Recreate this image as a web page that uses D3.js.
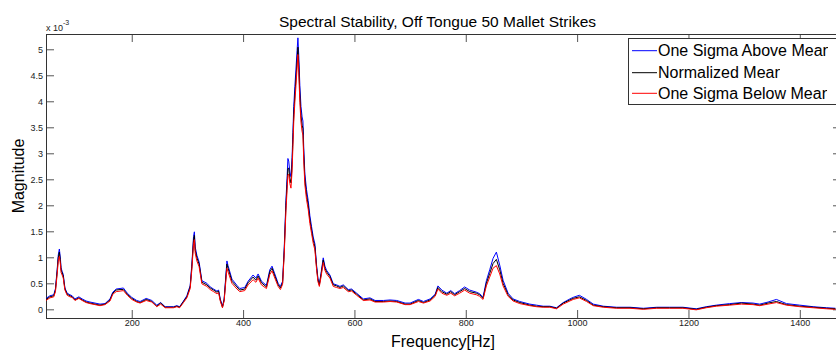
<!DOCTYPE html>
<html>
<head>
<meta charset="utf-8">
<script src="https://cdn.jsdelivr.net/npm/d3@7"></script>
<style>
  body { margin: 0; background: #fff; }
  svg { display: block; font-family: "Liberation Sans", Arial, Helvetica, sans-serif; }
</style>
</head>
<body>
<div id="chart"></div>
<script>
// frequency in Hz, magnitudes in units of 1e-3
var freq = [46, 53, 60, 63, 66, 68, 70, 72, 73, 75, 77, 78.5, 80, 84, 89, 93, 98, 105, 111, 118,
  125, 134, 143, 152, 161, 166, 172, 179, 185, 192, 200, 209, 215, 226, 236, 245, 252, 260, 275, 281,
  286, 293, 299, 305, 308, 311, 312.5, 314, 317, 321, 326, 335, 341, 347, 353, 356, 359, 363, 366, 371,
  373, 380, 389, 394, 403, 409, 418, 423, 427, 433, 442, 448, 452, 457, 463, 467, 471, 474, 477, 479,
  480.5, 482, 484, 486, 488, 489.5, 491, 493, 495, 497, 498.5, 500, 502, 504, 506, 507.5, 509, 511, 514, 517,
  520, 523, 526, 529, 532, 534.5, 537, 540, 544, 547, 550, 556, 562, 568, 574, 580, 589, 595, 604, 616,
  628, 637, 652, 664, 676, 691, 700, 715, 724, 736, 745, 750, 757, 766, 773, 780, 789, 798, 807, 819,
  825, 831, 837, 843, 849, 855, 861, 867, 876, 885, 897, 915, 927, 939, 951, 963, 975, 987, 993, 1004,
  1017, 1029, 1047, 1071, 1095, 1119, 1143, 1166, 1190, 1214, 1232, 1250, 1274, 1295, 1316, 1328, 1343, 1358, 1376, 1400,
  1424, 1448, 1464];

var meanVals = [0.19, 0.24, 0.26, 0.37, 0.72, 0.99, 1.10, 0.91, 0.76, 0.70, 0.64, 0.51, 0.39, 0.29, 0.26, 0.24, 0.18, 0.22, 0.18, 0.14,
  0.12, 0.10, 0.08, 0.10, 0.18, 0.31, 0.37, 0.38, 0.38, 0.29, 0.21, 0.15, 0.13, 0.19, 0.15, 0.06, 0.12, 0.04, 0.04, 0.06,
  0.04, 0.15, 0.24, 0.43, 0.82, 1.33, 1.42, 1.14, 0.99, 0.87, 0.52, 0.47, 0.41, 0.37, 0.33, 0.35, 0.18, 0.04, 0.18, 0.87,
  0.79, 0.54, 0.43, 0.37, 0.39, 0.51, 0.62, 0.56, 0.64, 0.51, 0.43, 0.72, 0.79, 0.64, 0.47, 0.41, 0.51, 1.14, 2.00, 2.40,
  2.70, 2.72, 2.52, 2.43, 2.78, 3.26, 3.74, 4.12, 4.45, 4.79, 5.04, 4.70, 4.12, 3.73, 3.54, 3.48, 2.97, 2.49, 2.20, 2.00,
  1.72, 1.52, 1.33, 1.20, 0.81, 0.56, 0.47, 0.66, 0.95, 0.79, 0.72, 0.63, 0.47, 0.45, 0.42, 0.45, 0.36, 0.37, 0.29, 0.18,
  0.20, 0.15, 0.15, 0.16, 0.15, 0.10, 0.10, 0.17, 0.13, 0.18, 0.27, 0.42, 0.34, 0.29, 0.34, 0.28, 0.34, 0.40, 0.34, 0.31,
  0.28, 0.21, 0.50, 0.69, 0.88, 0.96, 0.76, 0.50, 0.28, 0.18, 0.13, 0.08, 0.06, 0.05, 0.05, 0.02, 0.12, 0.18, 0.21, 0.24,
  0.17, 0.08, 0.05, 0.03, 0.03, 0.01, 0.03, 0.03, 0.03, 0.00, 0.04, 0.07, 0.09, 0.12, 0.10, 0.08, 0.12, 0.15, 0.09, 0.06,
  0.04, 0.02, 0.01];

var upperVals = [0.21, 0.26, 0.28, 0.40, 0.76, 1.04, 1.16, 0.96, 0.80, 0.73, 0.67, 0.54, 0.41, 0.31, 0.28, 0.26, 0.20, 0.24, 0.20, 0.16,
  0.14, 0.12, 0.10, 0.11, 0.20, 0.33, 0.39, 0.40, 0.41, 0.31, 0.23, 0.17, 0.15, 0.21, 0.17, 0.08, 0.13, 0.05, 0.05, 0.07,
  0.05, 0.16, 0.26, 0.46, 0.87, 1.40, 1.49, 1.20, 1.04, 0.91, 0.55, 0.50, 0.43, 0.39, 0.35, 0.37, 0.20, 0.06, 0.20, 0.93,
  0.84, 0.58, 0.46, 0.40, 0.42, 0.54, 0.66, 0.60, 0.68, 0.54, 0.46, 0.76, 0.83, 0.68, 0.50, 0.44, 0.54, 1.20, 2.10, 2.52,
  2.90, 2.85, 2.64, 2.55, 2.92, 3.40, 3.90, 4.28, 4.62, 4.98, 5.22, 4.88, 4.30, 3.90, 3.70, 3.62, 3.10, 2.60, 2.30, 2.09,
  1.80, 1.59, 1.39, 1.26, 0.85, 0.59, 0.49, 0.69, 0.99, 0.83, 0.75, 0.66, 0.49, 0.47, 0.44, 0.47, 0.38, 0.39, 0.31, 0.20,
  0.22, 0.17, 0.17, 0.18, 0.17, 0.12, 0.12, 0.19, 0.15, 0.20, 0.29, 0.45, 0.37, 0.31, 0.36, 0.30, 0.36, 0.43, 0.37, 0.33,
  0.30, 0.23, 0.55, 0.76, 0.98, 1.10, 0.85, 0.56, 0.31, 0.20, 0.15, 0.10, 0.08, 0.06, 0.06, 0.03, 0.13, 0.20, 0.23, 0.27,
  0.19, 0.10, 0.06, 0.04, 0.04, 0.02, 0.04, 0.04, 0.04, 0.01, 0.05, 0.08, 0.11, 0.13, 0.12, 0.10, 0.14, 0.19, 0.11, 0.08,
  0.05, 0.03, 0.02];

var lowerVals = [0.17, 0.22, 0.24, 0.34, 0.67, 0.92, 1.02, 0.85, 0.71, 0.66, 0.60, 0.48, 0.37, 0.27, 0.24, 0.23, 0.17, 0.21, 0.17, 0.13,
  0.11, 0.09, 0.07, 0.09, 0.16, 0.29, 0.34, 0.35, 0.36, 0.27, 0.19, 0.14, 0.12, 0.17, 0.14, 0.05, 0.10, 0.03, 0.03, 0.05,
  0.03, 0.13, 0.22, 0.40, 0.77, 1.25, 1.34, 1.08, 0.93, 0.82, 0.49, 0.44, 0.38, 0.34, 0.30, 0.32, 0.16, 0.03, 0.16, 0.79,
  0.72, 0.50, 0.39, 0.34, 0.36, 0.47, 0.57, 0.52, 0.60, 0.47, 0.40, 0.67, 0.74, 0.60, 0.44, 0.38, 0.48, 1.08, 1.90, 2.28,
  2.58, 2.60, 2.42, 2.33, 2.66, 3.13, 3.60, 3.98, 4.30, 4.64, 4.90, 4.55, 3.98, 3.60, 3.42, 3.35, 2.85, 2.39, 2.11, 1.92,
  1.65, 1.46, 1.27, 1.14, 0.77, 0.53, 0.44, 0.62, 0.90, 0.75, 0.68, 0.60, 0.44, 0.42, 0.40, 0.42, 0.34, 0.35, 0.27, 0.17,
  0.18, 0.14, 0.14, 0.15, 0.14, 0.09, 0.09, 0.15, 0.12, 0.16, 0.25, 0.39, 0.31, 0.27, 0.31, 0.26, 0.31, 0.37, 0.31, 0.28,
  0.25, 0.19, 0.45, 0.62, 0.79, 0.84, 0.68, 0.45, 0.25, 0.16, 0.11, 0.07, 0.05, 0.04, 0.04, 0.01, 0.10, 0.16, 0.19, 0.22,
  0.15, 0.07, 0.04, 0.02, 0.02, 0.00, 0.02, 0.02, 0.02, -0.01, 0.03, 0.06, 0.08, 0.10, 0.09, 0.07, 0.10, 0.13, 0.08, 0.05,
  0.03, 0.01, 0.00];

var xTicks = [200, 400, 600, 800, 1000, 1200, 1400];
var yTicks = [0, 0.5, 1, 1.5, 2, 2.5, 3, 3.5, 4, 4.5, 5];
var seriesNames = ["One Sigma Above Mean", "Normalized Mean", "One Sigma Below Mean"];
var seriesColors = ["#0000ff", "#000000", "#ff0000"];

var W = 836, H = 353;
var plotLeft = 46, plotRight = 841, plotTop = 34, plotBottom = 318;

var svg = d3.select("#chart").append("svg")
    .attr("width", W)
    .attr("height", H);

var x = d3.scaleLinear().domain([46, 1474]).range([plotLeft, plotRight]);
var y = d3.scaleLinear().domain([-0.167, 5.294]).range([plotBottom, plotTop]);

svg.append("clipPath").attr("id", "plotClip")
  .append("rect")
    .attr("x", plotLeft).attr("y", plotTop)
    .attr("width", plotRight - plotLeft).attr("height", plotBottom - plotTop);

// axes (ticks pointing inward like matlab)
function styleAxis(g) {
    g.select(".domain").remove();
    g.selectAll(".tick line").attr("stroke", "#555");
    g.selectAll(".tick text").attr("fill", "#222").style("font-size", "9px");
}

svg.append("g")
    .attr("transform", "translate(0," + plotBottom + ")")
    .call(d3.axisBottom(x).tickValues(xTicks).tickSizeInner(-8).tickSizeOuter(0).tickPadding(2).tickFormat(d3.format("d")))
    .call(styleAxis);

svg.append("g")
    .attr("transform", "translate(0," + plotTop + ")")
    .call(d3.axisTop(x).tickValues(xTicks).tickSizeInner(-8).tickSizeOuter(0).tickFormat(""))
    .call(styleAxis);

svg.append("g")
    .attr("transform", "translate(" + plotLeft + ",0)")
    .call(d3.axisLeft(y).tickValues(yTicks).tickSizeInner(-8).tickSizeOuter(0).tickPadding(3).tickFormat(function(d) { return d; }))
    .call(styleAxis);

svg.append("g")
    .attr("transform", "translate(" + plotRight + ",0)")
    .call(d3.axisRight(y).tickValues(yTicks).tickSizeInner(-8).tickSizeOuter(0).tickFormat(""))
    .call(styleAxis);

// frame
svg.append("rect")
    .attr("x", plotLeft + 0.5).attr("y", plotTop + 0.5)
    .attr("width", plotRight - plotLeft).attr("height", plotBottom - plotTop)
    .attr("fill", "none")
    .attr("stroke", "#333");

// exponent label
var expo = svg.append("text")
    .attr("x", 46).attr("y", 30.5)
    .attr("fill", "#222")
    .style("font-size", "9px")
    .text("x 10");
expo.append("tspan").attr("dy", -6).style("font-size", "7px").text("-3");

// lines
var series = [upperVals, meanVals, lowerVals];
var line = d3.line()
    .x(function(d) { return x(d[0]); })
    .y(function(d) { return y(d[1]); });

var plot = svg.append("g").attr("clip-path", "url(#plotClip)");
series.forEach(function(vals, i) {
    var pts = freq.map(function(f, j) { return [f, vals[j]]; });
    plot.append("path")
        .datum(pts)
        .attr("fill", "none")
        .attr("stroke", seriesColors[i])
        .attr("stroke-width", 1)
        .attr("stroke-linejoin", "round")
        .attr("d", line);
});

// title and axis labels
svg.append("text")
    .attr("x", 437.5).attr("y", 26.5)
    .attr("text-anchor", "middle")
    .style("font-size", "15.5px")
    .text("Spectral Stability, Off Tongue 50 Mallet Strikes");

svg.append("text")
    .attr("x", 443).attr("y", 346.5)
    .attr("text-anchor", "middle")
    .style("font-size", "16px")
    .text("Frequency[Hz]");

svg.append("text")
    .attr("transform", "translate(24,176) rotate(-90)")
    .attr("text-anchor", "middle")
    .style("font-size", "16px")
    .text("Magnitude");

// legend
var legend = svg.append("g");
legend.append("rect")
    .attr("x", 628.5).attr("y", 38.5)
    .attr("width", 240).attr("height", 66)
    .attr("fill", "#fff")
    .attr("stroke", "#333");

var rowY = [50.7, 72.7, 93.3];
seriesNames.forEach(function(name, i) {
    legend.append("line")
        .attr("x1", 632).attr("x2", 657)
        .attr("y1", rowY[i]).attr("y2", rowY[i])
        .attr("stroke", seriesColors[i])
        .attr("stroke-width", 1);
    var t = legend.append("text")
        .attr("x", 658).attr("y", rowY[i] + 5.5)
        .style("font-size", "16px")
        .text(name);
    // matlab export cut off the last glyph of each legend entry
    var len = t.node().getComputedTextLength();
    legend.append("clipPath").attr("id", "legClip" + i)
      .append("rect")
        .attr("x", 650).attr("y", rowY[i] - 12)
        .attr("width", 8 + len - 3.5).attr("height", 24);
    t.attr("clip-path", "url(#legClip" + i + ")");
});
</script>
</body>
</html>
